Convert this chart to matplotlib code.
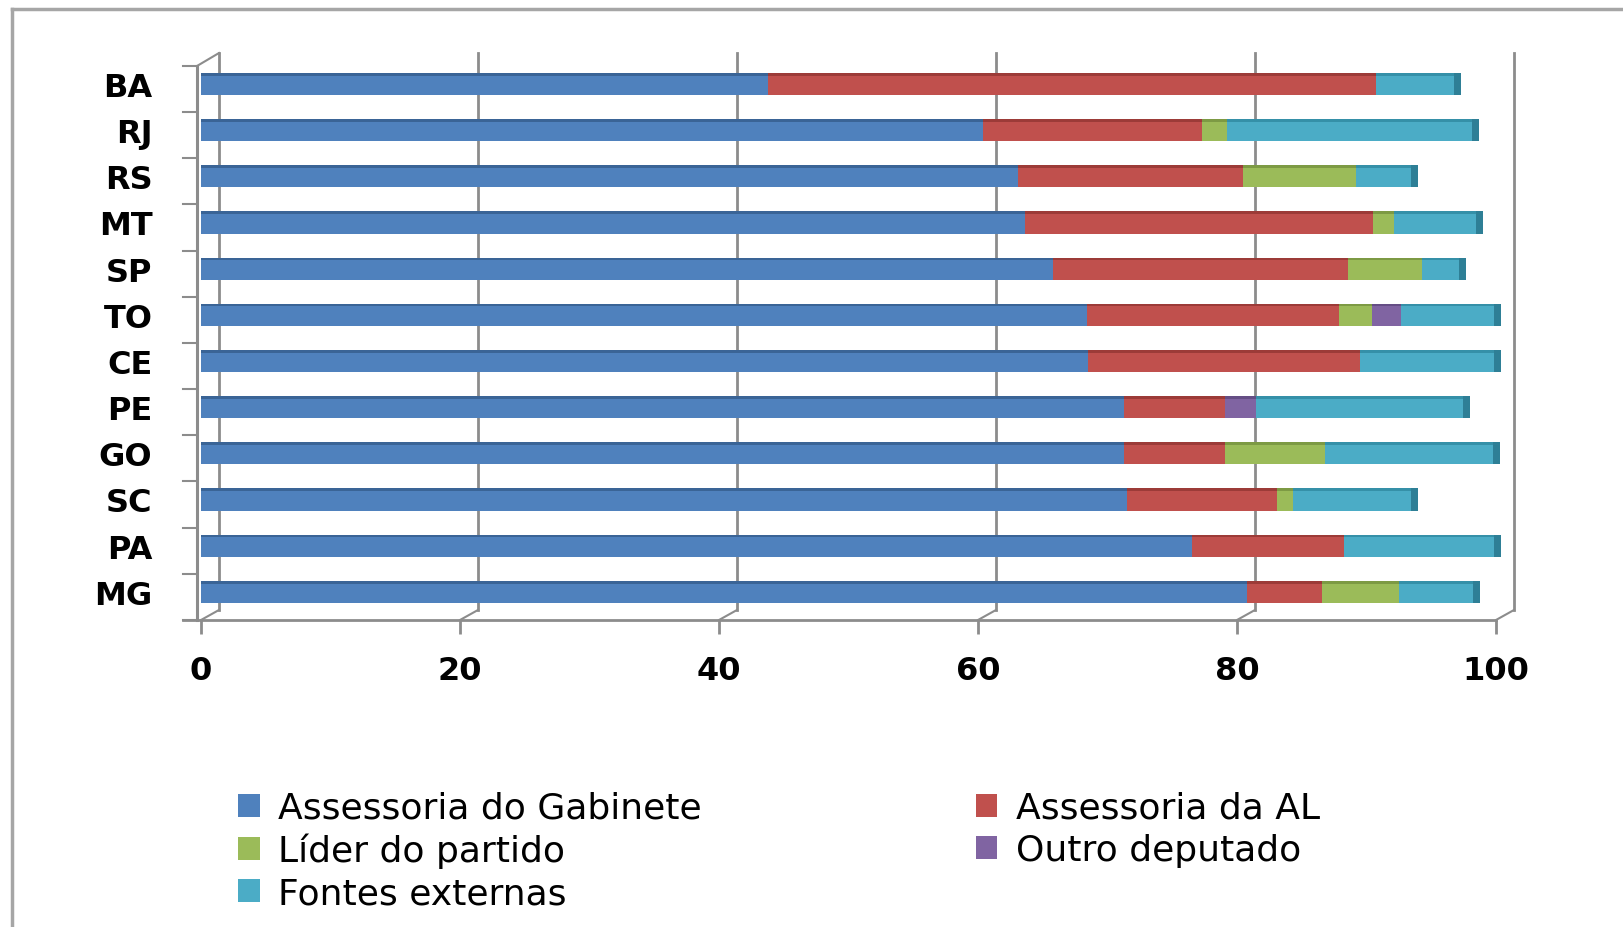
import matplotlib.pyplot as plt
from matplotlib.patches import Patch
from matplotlib.lines import Line2D

# states, top to bottom as in the chart
states = ["BA", "RJ", "RS", "MT", "SP", "TO", "CE", "PE", "GO", "SC", "PA", "MG"]

# share of each source (%), one list per series, same order as states
gabinete = [43.8, 60.4, 63.1, 63.6, 65.8, 68.4, 68.5, 71.3, 71.3, 71.5, 76.5, 80.8]
assessoria_al = [46.9, 16.9, 17.4, 26.9, 22.8, 19.5, 21.0, 7.8, 7.8, 11.6, 11.8, 5.8]
lider = [0.0, 1.9, 8.7, 1.6, 5.7, 2.5, 0.0, 0.0, 7.7, 1.2, 0.0, 5.9]
outro = [0.0, 0.0, 0.0, 0.0, 0.0, 2.3, 0.0, 2.4, 0.0, 0.0, 0.0, 0.0]
externas = [6.6, 19.5, 4.8, 6.9, 3.4, 7.7, 10.9, 16.5, 13.5, 9.7, 12.1, 6.3]

series_names = ["Assessoria do Gabinete", "Assessoria da AL", "Líder do partido",
                "Outro deputado", "Fontes externas"]
series_colors = ["#4F81BD", "#C0504D", "#9BBB59", "#8064A2", "#4BACC6"]
top_colors = ["#3A6496", "#9C3B38", "#7D9A44", "#654E85", "#3590A8"]
xticks = [0, 20, 40, 60, 80, 100]

GRID = "#8C8C8C"

fig = plt.figure(figsize=(16.24, 9.28), dpi=100)
W, H = 1624, 928
# plot area in pixels: front axis x 201..1496, y 54..621
ax = fig.add_axes([201 / W, (H - 621) / H, (1496 - 201) / W, (621 - 54) / H])
ax.set_xlim(0, 100)
ax.set_ylim(-0.61, 11.67)
ax.set_facecolor("none")
for s in ["top", "right", "left"]:
    ax.spines[s].set_visible(False)
ax.spines["bottom"].set_color(GRID)
ax.spines["bottom"].set_linewidth(2)

# fake 3D offsets of the back wall
dxb, dyb = 1.39, 0.217
ybot = -0.61

# back wall gridlines + floor diagonals
for v in xticks:
    ax.plot([v + dxb, v + dxb], [ybot + dyb, 11.67], color=GRID, lw=2, zorder=1, clip_on=False)
    ax.plot([v, v + dxb], [ybot, ybot + dyb], color=GRID, lw=1.5, zorder=1, clip_on=False)

# left front wall line + top diagonal
ax.plot([-0.3, -0.3], [ybot, 11.39], color=GRID, lw=2.2, zorder=2, clip_on=False)
ax.plot([-0.3, dxb], [11.39, 11.67], color=GRID, lw=1.5, zorder=2, clip_on=False)
ax.plot([-1.4, 0], [ybot, ybot], color=GRID, lw=2, zorder=2, clip_on=False)
# category tick marks on the front wall
for k in range(len(states) + 1):
    yk = k - 0.5 - 0.11
    ax.plot([-1.4, -0.3], [yk, yk], color=GRID, lw=1.5, zorder=2, clip_on=False)

# stacked bars (MG at bottom)
n = len(states)
ypos = [n - 1 - i for i in range(n)]
data = [gabinete, assessoria_al, lider, outro, externas]
bh = 0.48
left = [0.0] * n
for vals, col, tcol in zip(data, series_colors, top_colors):
    ax.barh(ypos, vals, left=left, height=bh, color=col, edgecolor="none",
            zorder=3, clip_on=False)
    ax.barh([y + bh / 2 - 0.03 for y in ypos], vals, left=left, height=0.06,
            color=tcol, edgecolor="none", zorder=4, clip_on=False)
    left = [l + v for l, v in zip(left, vals)]

# dark end caps of the 3D bars
ax.barh(ypos, [0.55] * n, left=[t - 0.55 for t in left], height=bh,
        color="#2E7F96", edgecolor="none", zorder=5, clip_on=False)

ax.set_yticks(ypos)
ax.set_yticklabels(states, fontsize=23, fontweight="bold")
ax.tick_params(axis="y", length=0, pad=35)

ax.set_xticks(xticks)
ax.set_xticklabels([str(v) for v in xticks], fontsize=23, fontweight="bold")
ax.tick_params(axis="x", direction="out", length=10, width=2, color=GRID, pad=15)

# legend, column-major: 3 entries in first column, 2 in second
order = [0, 2, 4, 1, 3]
handles = [Patch(facecolor=series_colors[i], edgecolor="none") for i in order]
labels = [series_names[i] for i in order]
fig.legend(handles, labels, loc="upper left", bbox_to_anchor=(238 / W, 1 - 792 / H),
           ncol=2, frameon=False, fontsize=26, handlelength=0.6, handleheight=0.6,
           handletextpad=0.5, labelspacing=0.22, columnspacing=7.6,
           borderpad=0, borderaxespad=0)

# outer chart border (top and left only visible)
fig.add_artist(Line2D([12 / W, 1], [1 - 10 / H, 1 - 10 / H], color="#A6A6A6", lw=2.5))
fig.add_artist(Line2D([12 / W, 12 / W], [0, 1 - 10 / H], color="#A6A6A6", lw=2.5))

fig.savefig("out.png", dpi=100)
